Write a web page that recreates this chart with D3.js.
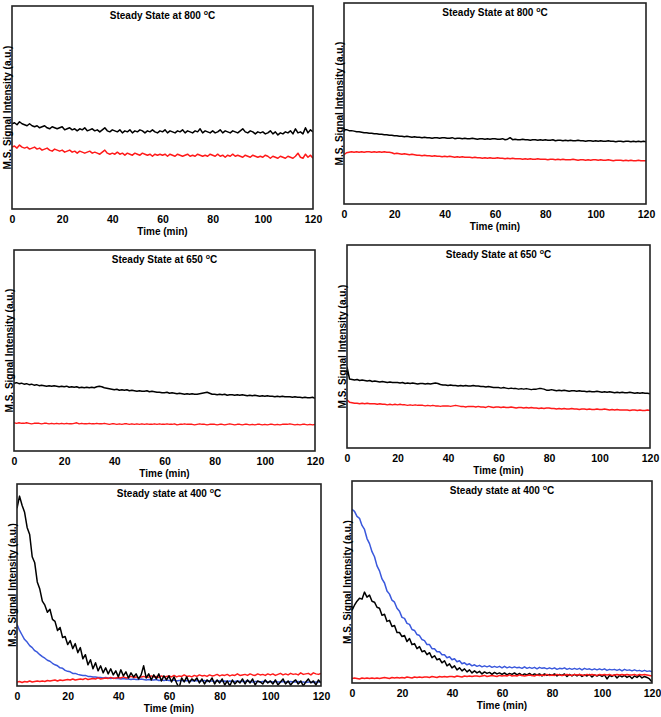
<!DOCTYPE html>
<html><head><meta charset="utf-8">
<script src="https://cdn.jsdelivr.net/npm/d3@7"></script>
<style>
body{margin:0;background:#fff}
svg text{font-family:"Liberation Sans",Arial,sans-serif;font-weight:bold;fill:#000}
</style>
</head><body>
<svg id="c" width="661" height="717"></svg>
<script>
// ---------- DATA ----------
const timeMin = [0,1,2,3,4,5,6,7,8,9,10,11,12,13,14,15,16,17,18,19,20,21,22,23,24,25,26,27,28,29,30,31,32,33,34,35,36,37,38,39,40,41,42,43,44,45,46,47,48,49,50,51,52,53,54,55,56,57,58,59,60,61,62,63,64,65,66,67,68,69,70,71,72,73,74,75,76,77,78,79,80,81,82,83,84,85,86,87,88,89,90,91,92,93,94,95,96,97,98,99,100,101,102,103,104,105,106,107,108,109,110,111,112,113,114,115,116,117,118,119,120];
const xTickValues = [0,20,40,60,80,100,120];
const titleTexts = [
  ["Steady State at 800 ", "C"],
  ["Steady State at 800 ", "C"],
  ["Steady State at 650 ", "C"],
  ["Steady State at 650 ", "C"],
  ["Steady state at 400 ", "C"],
  ["Steady state at 400 ", "C"]
];
const xAxisLabel = "Time (min)";
const yAxisLabel = "M.S. Signal Intensity (a.u.)";

// Panel 1 (800 °C, left)
const p1Black = [84,85,83,86,84,83,82,84,82,81, 82,80,81,82,80,79,81,80,79,80, 81,78,79,80,78,79,77,79,78,80, 77,78,79,77,78,76,78,80,77,76, 78,77,76,78,75,77,76,78,75,77, 76,78,77,75,77,76,78,76,75,77, 76,78,75,77,76,75,77,76,78,75, 77,76,75,77,76,79,75,77,76,75, 77,75,76,78,75,77,76,75,77,76, 75,77,79,76,75,77,76,74,76,75, 76,74,75,77,74,76,73,75,74,76, 75,77,74,79,75,76,74,80,75,78, 76];
const p1Red = [61,62,60,63,61,60,61,59,60,61, 59,60,58,59,60,58,57,59,58,57, 58,56,57,58,56,57,55,57,56,55, 56,57,55,56,55,54,56,58,55,54, 55,54,56,54,55,53,55,54,53,55, 54,53,55,54,53,54,52,54,53,54, 53,54,52,54,53,52,54,53,52,53, 54,52,53,52,54,53,52,53,52,54, 53,52,54,52,53,51,53,52,54,52, 53,52,51,53,52,51,53,52,51,52, 51,53,52,50,52,51,50,52,51,50, 52,51,50,52,55,51,50,54,51,53, 50];

// Panel 2 (800 °C, right)
const p2Black = [74,74,73,73,72.5,72,72,71.5,71,71, 70.5,70.5,70,70,69.5,69.5,69,69,68.5,68.5, 68,68,67.5,67.5,67,67.5,67,66.5,67,66.5, 66.5,66,66.5,66,66,65.5,66,66,65.5,66, 66,65.5,65.5,66,65,65.5,65.5,65,65.5,65, 65,65.5,65,64.5,65,65,64.5,65,64.5,65, 65,64.5,64.5,65,64,64.5,66,64,64.5,64, 64,64.5,64,64,63.5,64,64,63.5,64,63.5, 64,63.5,63.5,64,63,63.5,63.5,63,63.5,63, 63.5,63,63,63.5,63,63,62.5,63,63,62.5, 63,62.5,63,62.5,62.5,63,62.5,62.5,62,62.5, 62.5,62,62.5,62.5,62,62.5,62,62.5,62,62.5, 62];
const p2Red = [49,51,51.5,52,51.5,52,51.5,52,51.5,52, 52,51.5,52,51.5,52,51.5,52,51.5,51.5,51, 50,50.5,50,49.5,50,49.5,49,49.5,49,48.5, 48.5,48,48.5,48,48,47.5,48,47.5,47.5,47, 47.5,47,47.5,47,46.5,47,46.5,47,46.5,46.5, 46.5,46,46.5,46,46,45.5,46,45.5,46,45.5, 45.5,46,45.5,45.5,45,45.5,45,45.5,45,45, 45,44.5,45,44.5,45,44.5,44.5,45,44.5,44.5, 44.5,44,44.5,44.5,44,44.5,44,44.5,44,44, 44,44.5,44,43.5,44,44,43.5,44,43.5,44, 44,43.5,44,43.5,43.5,44,43.5,43,43.5,43.5, 43.5,43,43.5,43,43.5,43,43,43.5,43,43, 43];

// Panel 3 (650 °C, left)
const p3Black = [67.5,68,67,67.5,66.5,67,66,66.5,65.5,66, 65,65.5,65,64.5,65,64.5,65,64.5,64,64.5, 64,64.5,63.5,64,63.5,64,63,63.5,63,63.5, 63,63.5,63,64,64.5,64,63,62.5,62,61.5, 61,61.5,60.5,61,60.5,61,60,60.5,60,59.5, 60,59.5,59.5,60,59,59.5,59,58.5,58.5,58, 58,58.5,57.5,58,57.5,57,57.5,57,56.5,57, 56.5,57,56.5,56.5,57,57.5,58,58.5,57.5,56.5, 56.5,56,56.5,56,56.5,55.5,56,56,55.5,56, 55.5,56,55.5,55,55.5,55,55.5,55,54.5,55, 54.5,55,54.5,54.5,54,54.5,54,54.5,54,54, 54,53.5,54,53.5,53.5,53,53.5,53,53,53.5, 52.5];
const p3Red = [28,27.5,28,27.5,27.5,28,27.5,27,27.5,27.5, 27.5,27,27.5,27.5,27,27.5,27,27.5,27,27.5, 27,27.5,27,27,27.5,28,27,27.5,27,27, 27.5,27,27,27.5,27,27,27.5,27,26.5,27, 27,26.5,27,26.5,27,27,26.5,27,26.5,27, 26.5,27,26.5,27,26.5,26.5,27,26.5,27,26.5, 26.5,27,26.5,26.5,27,26,26.5,26.5,27,26.5, 26.5,26.5,26,26.5,27,26.5,26.5,26,26.5,26.5, 26.5,26,26.5,26.5,26,26.5,27,26.5,26,26.5, 26.5,26,26.5,26.5,26,26.5,26,26.5,26.5,26, 26.5,26,26.5,26.5,26,26.5,26,26.5,26.5,26.5, 27,26.5,26,26.5,26,26.5,26.5,26,26.5,26, 26.5];

// Panel 4 (650 °C, right)
const p4Black = [80,68,67.5,67,67.5,66.5,67,66.5,66,66.5, 65.5,66,65.5,65,65.5,65,64.5,65,64.5,64.5, 64.5,64,64.5,63.5,64,63.5,64,63.5,63,63.5, 63.5,63,63.5,63,63.5,64,63.5,62.5,62,62, 61.5,62,61.5,61.5,61,61.5,61,61.5,61,61, 61.5,61,61,60.5,60.5,60,60.5,60,59.5,59.5, 59.5,59,59.5,59,58.5,59,58.5,58.5,58,58.5, 58,58.5,58,57.5,58,58,58.5,58.5,58,57, 57,57.5,57,56.5,57,56.5,57,56.5,56,56.5, 56.5,56,56.5,56,56,55.5,56,55.5,55.5,56, 55.5,55,55.5,55,55.5,55,54.5,55,54.5,55, 54.5,54.5,55,54.5,54,54.5,54,54.5,54,54, 53.5];
const p4Red = [47.5,45,44.5,44,44,43.5,44,43.5,44,43.5, 43.5,43.5,43,43.5,43,43,42.5,43,42.5,43, 42.5,43,42.5,42.5,42,42.5,42,42.5,42,42, 42,41.5,42,41.5,42,41.5,41.5,41,41.5,41.5, 41.5,41,41.5,42,41.5,41,41,40.5,41,41, 41,40.5,41,40.5,40.5,40,41,40.5,40,40.5, 40.5,40,40.5,40,40,40.5,40,39.5,40,40, 39.5,40,39.5,40,39.5,39.5,39,39.5,39,39.5, 39.5,39,39,38.5,39,38.5,39,38.5,38.5,39, 38.5,38.5,38,38.5,38.5,38,38.5,38,38,38.5, 38,38,38.5,38,37.5,38,37.5,38,37.5,37.5, 37.5,37.5,37,37.5,37.5,37,37.5,37,37,37.5, 37];

// Panel 5 (400 °C, left)
const p5Black = [176,188,179,172,157,150,128,122,103,96, 84,80,73,76,66,64,55,58,48,49, 41,45,37,42,33,38,27,31,21,26, 17,23,15,20,13,18,12,17,11,15, 9,16,10,14,8,13,9,12,7,11, 20,8,12,6,11,7,12,5,10,6, 10,4,9,3,-2,8,4,9,3,7, 5,8,3,7,2,6,4,8,2,6, 3,7,1,5,0,6,2,5,3,7, 2,6,3,7,1,5,4,2,6,3, 5,2,6,1,4,7,2,5,1,4, 6,2,5,0,4,7,3,5,1,6, 3];
const p5Blue = [61,55,50.5,46,43.5,40,38,35,33.5,31, 29,27.5,25.5,24.5,22.5,21,20,18,17.5,15.5, 14.5,14,12.5,12.5,11.5,11,10.5,10.5,9.5,9.5, 9,9,8.5,8.5,8,8.5,8,7.5,8,7.5, 7.5,7,7.5,7,7,6.5,7,6.5,6.5,7, 6.5,6,6.5,6,6,6.5,5.5,6,5.5,6, 5.5,5.5,6,5,5.5,5.5,5,5.5,5,5.5, 5,5.5,5,5,5.5,4.5,5,5,4.5,5, 5,4.5,5,4.5,5,4.5,4.5,5,4.5,4.5, 4.5,5,4.5,4,4.5,4.5,4,4.5,4.5,4, 4.5,4,4.5,4,4,4.5,4,4,4.5,4, 4,4.5,4,4,3.5,4,4,3.5,4,4, 4];
const p5Red = [4,4.5,3.5,4.5,4,5,4,4.5,5,4.5, 5,4.5,5.5,5,5.5,6,5,6,5.5,6, 6.5,6,7,6,6.5,7,6.5,7.5,6.5,7, 7.5,7,8,7,7.5,8,7.5,8.5,7.5,8, 8.5,8,9,8,8.5,9.5,8.5,9,8,9, 9.5,8.5,9,10,9,9.5,8.5,10,9,9.5, 10,9,10.5,9,10,9.5,11,9.5,10,9, 10.5,9.5,11,10,10.5,9.5,11,10,10.5,11.5, 10,11,10.5,11.5,10,11,10.5,12,10.5,11, 11.5,10.5,12,11,10.5,12,11,11.5,10.5,12, 11,12,10.5,11.5,12.5,11,12,11,12.5,11.5, 12,11,13,11.5,12,12.5,11,13,12,11.5, 12.5];

// Panel 6 (400 °C, right)
const p6Blue = [172,170,165,163,156,152,143,138,130,125, 116,111,103,99,91,88,82,80,74,71, 65,64,59,58,53,52,48,47,43,42, 38,38,34,34,31,31,28,28,25,26, 23,24,21,22,19,20,18,19,17,18, 16.5,17.5,16,17,16,17,15.5,16.5,15.5,16.5, 15,16.5,15,16,15,16,15,15.5,14.5,16, 14.5,15.5,14.5,15.5,14,15.5,14.5,15,14,15, 14,15,13.5,14.5,14,15,13.5,14.5,13.5,14.5, 13.5,14.5,13,14.5,13.5,14,13,14,13,14, 13,14,12.5,13.5,13,13.5,12.5,13.5,12,13.5, 12.5,13,12,13,12,12.5,11.5,12.5,11.5,12, 11];
const p6Black = [72,77,81,84,83,90,85,87,81,80, 75,74,67,68,61,62,56,57,50,50, 46,47,41,44,38,39,34,36,31,32, 28,30,25,27,23,24,20,22,17,19, 15,17,13,15,12,14,11,13,10,12, 10,11.5,9,11,9.5,10.5,8.5,10.5,9,10, 8.5,10,8,9.5,8.5,10,8,9.5,7.5,9, 8,9.5,7.5,9,8,9,7,9,7.5,8.5, 7.5,9,7,8.5,7.5,9,6.5,8.5,7,8.5, 7,8.5,6.5,8,7,8.5,6,8,7,8, 6.5,8,4,7.5,6.5,8,5,7.5,6,7.5, 5.5,7,4.5,7,5.5,7.5,5,6.5,5.5,4, 1];
const p6Red = [4.5,5,4.5,4,5,4.5,5,4.5,5,4.5, 5,4.5,5,5.5,5,4.5,5.5,5,5.5,5, 5.5,5,6,5.5,5,6,5.5,6,5.5,6, 6,5.5,6.5,6,5.5,6.5,6,6.5,6,6.5, 6.5,6,7,6.5,6,7,6.5,7,6.5,7, 7,6.5,7,7.5,6.5,7,7.5,7,6.5,7.5, 7,7.5,7,8,7,7.5,7,8,7.5,7, 7.5,8,7.5,7,8,7.5,8,7.5,8.5,7.5, 8,7.5,8.5,8,7.5,8,8.5,8,7.5,8.5, 8,8.5,8,7.5,8.5,8,8.5,8,7.5,8.5, 8,8.5,8,8.5,7.5,8,8.5,8,8.5,8, 8.5,8,8,8.5,7.5,8.5,8,8.5,8,7.5, 7];

// ---------- LAYOUT / STYLE ----------
const BLACK = "#000000", RED = "#ff1a1a", BLUE = "#3a58dc";
const panels = [
  {box:[12,6,313,209],   series:[[p1Red,RED],[p1Black,BLACK]]},
  {box:[344,3,646,204],  series:[[p2Red,RED],[p2Black,BLACK]]},
  {box:[14,250,315,451], series:[[p3Red,RED],[p3Black,BLACK]]},
  {box:[347,245,650,448],series:[[p4Red,RED],[p4Black,BLACK]]},
  {box:[17,484,321,686], series:[[p5Blue,BLUE],[p5Red,RED],[p5Black,BLACK]]},
  {box:[352,481,652,683],series:[[p6Blue,BLUE],[p6Black,BLACK],[p6Red,RED]]}
];

const svg = d3.select("#c");
const defs = svg.append("defs");

panels.forEach((p, i) => {
  const [x0, y0, x1, y1] = p.box;
  const x = d3.scaleLinear().domain([0, 120]).range([x0, x1]);
  const y = d3.scaleLinear().domain([0, 200]).range([y1, y0]);
  defs.append("clipPath").attr("id", "clip" + i)
    .append("rect").attr("x", x0).attr("y", y0).attr("width", x1 - x0).attr("height", y1 - y0);
  const g = svg.append("g");
  const line = d3.line().x((d, j) => x(timeMin[j])).y(d => y(d));
  p.series.forEach(([vals, col]) => {
    g.append("path")
      .attr("clip-path", `url(#clip${i})`)
      .attr("d", line(vals))
      .attr("fill", "none")
      .attr("stroke", col)
      .attr("stroke-width", 1.5)
      .attr("stroke-linejoin", "round");
  });
  // frame
  g.append("rect").attr("x", x0).attr("y", y0).attr("width", x1 - x0).attr("height", y1 - y0)
    .attr("fill", "none").attr("stroke", "#222").attr("stroke-width", 1.6);
  // x axis labels
  const ax = g.append("g").attr("transform", `translate(0,${y1})`)
    .call(d3.axisBottom(x).tickValues(xTickValues).tickSize(0).tickPadding(6.5).tickFormat(d3.format("d")));
  ax.select(".domain").remove();
  ax.attr("font-size", 10.5).attr("font-family", null);
  // title
  const t = g.append("text").attr("x", (x0 + x1) / 2).attr("y", y0 + 12.5)
    .attr("text-anchor", "middle").attr("font-size", 10);
  t.append("tspan").text(titleTexts[i][0]);
  t.append("tspan").attr("font-size", 7).attr("dy", -4).text("o");
  t.append("tspan").attr("dy", 4).text(titleTexts[i][1]);
  // x label
  g.append("text").attr("x", (x0 + x1) / 2).attr("y", y1 + 26)
    .attr("text-anchor", "middle").attr("font-size", 10).text(xAxisLabel);
  // y label
  g.append("text").attr("transform", `translate(${x0 - 1.5},${(y0 + y1) / 2}) rotate(-90)`)
    .attr("text-anchor", "middle").attr("font-size", 10).text(yAxisLabel);
});
</script>
</body></html>
